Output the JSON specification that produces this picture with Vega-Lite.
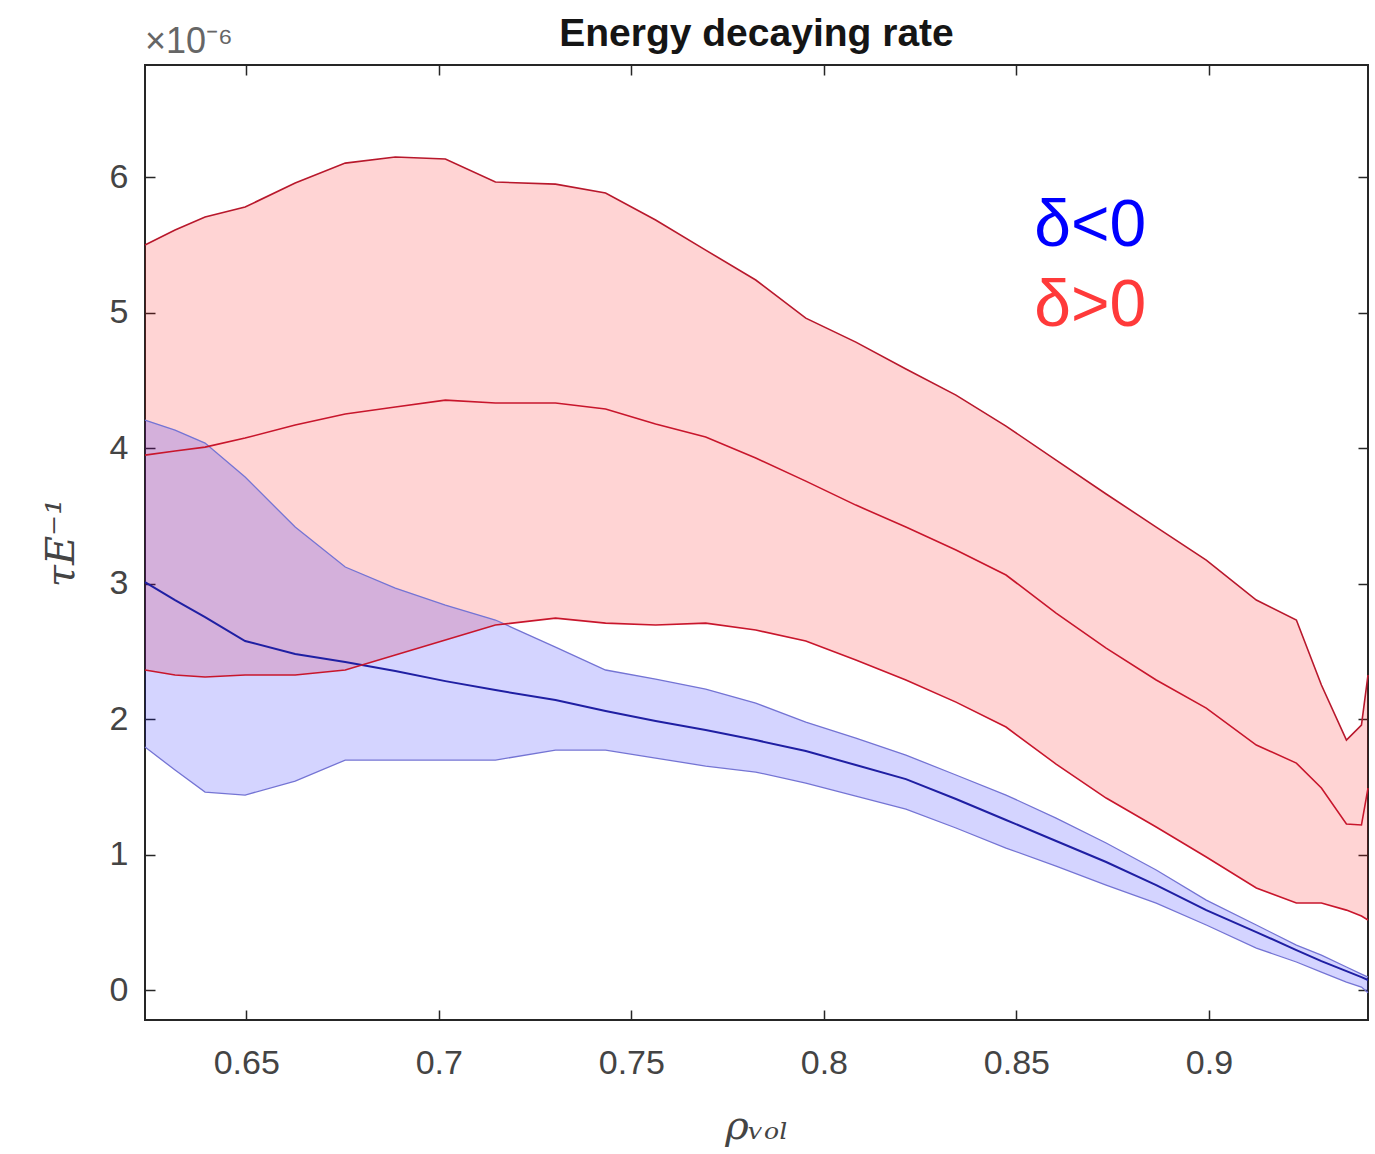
{
  "$schema": "https://vega.github.io/schema/vega-lite/v6.json",
  "width": 1223,
  "height": 955,
  "autosize": "none",
  "padding": {"left": 145, "top": 65, "right": 7, "bottom": 134},
  "background": "white",
  "title": {"text": "Energy decaying rate", "fontSize": 39, "fontWeight": "bold", "font": "Liberation Sans", "color": "#151515", "anchor": "middle", "baseline": "alphabetic", "offset": -61},
  "config": {
    "view": {"stroke": "#262626", "strokeWidth": 2},
    "axis": {"domain": false, "grid": false, "tickSize": -10, "tickColor": "#262626", "tickWidth": 1.5, "labelFont": "Liberation Sans", "labelFontSize": 34, "labelColor": "#444444", "titleColor": "#444444", "titleFont": "DejaVu Serif", "titleFontStyle": "italic", "titleFontWeight": "normal", "titleFontSize": 40}
  },
  "datasets": {
    "red": [
      {"x": 0.6237, "lo": 2.362, "mid": 3.948, "hi": 5.498},
      {"x": 0.6315, "lo": 2.325, "mid": 3.978, "hi": 5.609},
      {"x": 0.6393, "lo": 2.310, "mid": 4.007, "hi": 5.705},
      {"x": 0.6497, "lo": 2.325, "mid": 4.074, "hi": 5.779},
      {"x": 0.6627, "lo": 2.325, "mid": 4.170, "hi": 5.956},
      {"x": 0.6757, "lo": 2.362, "mid": 4.251, "hi": 6.103},
      {"x": 0.6887, "lo": 2.472, "mid": 4.303, "hi": 6.148},
      {"x": 0.7017, "lo": 2.583, "mid": 4.354, "hi": 6.133},
      {"x": 0.7147, "lo": 2.694, "mid": 4.332, "hi": 5.963},
      {"x": 0.7303, "lo": 2.745, "mid": 4.332, "hi": 5.948},
      {"x": 0.7433, "lo": 2.708, "mid": 4.288, "hi": 5.882},
      {"x": 0.7563, "lo": 2.694, "mid": 4.177, "hi": 5.683},
      {"x": 0.7693, "lo": 2.708, "mid": 4.081, "hi": 5.461},
      {"x": 0.7823, "lo": 2.657, "mid": 3.926, "hi": 5.240},
      {"x": 0.7953, "lo": 2.576, "mid": 3.756, "hi": 4.959},
      {"x": 0.8083, "lo": 2.435, "mid": 3.579, "hi": 4.782},
      {"x": 0.8213, "lo": 2.288, "mid": 3.417, "hi": 4.583},
      {"x": 0.8343, "lo": 2.125, "mid": 3.247, "hi": 4.391},
      {"x": 0.8473, "lo": 1.941, "mid": 3.063, "hi": 4.162},
      {"x": 0.8603, "lo": 1.668, "mid": 2.782, "hi": 3.911},
      {"x": 0.8733, "lo": 1.417, "mid": 2.524, "hi": 3.661},
      {"x": 0.8863, "lo": 1.203, "mid": 2.288, "hi": 3.417},
      {"x": 0.8993, "lo": 0.982, "mid": 2.081, "hi": 3.173},
      {"x": 0.9123, "lo": 0.753, "mid": 1.808, "hi": 2.878},
      {"x": 0.9227, "lo": 0.642, "mid": 1.675, "hi": 2.731},
      {"x": 0.9292, "lo": 0.642, "mid": 1.491, "hi": 2.251},
      {"x": 0.9357, "lo": 0.590, "mid": 1.225, "hi": 1.845},
      {"x": 0.9396, "lo": 0.546, "mid": 1.218, "hi": 1.956},
      {"x": 0.9413, "lo": 0.517, "mid": 1.491, "hi": 2.325}
    ],
    "blue": [
      {"x": 0.6237, "lo": 1.793, "mid": 3.011, "hi": 4.207},
      {"x": 0.6315, "lo": 1.624, "mid": 2.878, "hi": 4.133},
      {"x": 0.6393, "lo": 1.461, "mid": 2.753, "hi": 4.037},
      {"x": 0.6497, "lo": 1.439, "mid": 2.576, "hi": 3.786},
      {"x": 0.6627, "lo": 1.542, "mid": 2.480, "hi": 3.417},
      {"x": 0.6757, "lo": 1.697, "mid": 2.421, "hi": 3.122},
      {"x": 0.6887, "lo": 1.697, "mid": 2.354, "hi": 2.967},
      {"x": 0.7017, "lo": 1.697, "mid": 2.280, "hi": 2.841},
      {"x": 0.7147, "lo": 1.697, "mid": 2.214, "hi": 2.731},
      {"x": 0.7303, "lo": 1.771, "mid": 2.140, "hi": 2.531},
      {"x": 0.7433, "lo": 1.771, "mid": 2.059, "hi": 2.362},
      {"x": 0.7563, "lo": 1.712, "mid": 1.985, "hi": 2.295},
      {"x": 0.7693, "lo": 1.653, "mid": 1.919, "hi": 2.221},
      {"x": 0.7823, "lo": 1.609, "mid": 1.845, "hi": 2.118},
      {"x": 0.7953, "lo": 1.528, "mid": 1.764, "hi": 1.978},
      {"x": 0.8083, "lo": 1.432, "mid": 1.661, "hi": 1.860},
      {"x": 0.8213, "lo": 1.336, "mid": 1.557, "hi": 1.734},
      {"x": 0.8343, "lo": 1.196, "mid": 1.410, "hi": 1.587},
      {"x": 0.8473, "lo": 1.048, "mid": 1.255, "hi": 1.439},
      {"x": 0.8603, "lo": 0.915, "mid": 1.100, "hi": 1.269},
      {"x": 0.8733, "lo": 0.775, "mid": 0.945, "hi": 1.085},
      {"x": 0.8863, "lo": 0.642, "mid": 0.775, "hi": 0.886},
      {"x": 0.8993, "lo": 0.480, "mid": 0.590, "hi": 0.664},
      {"x": 0.9123, "lo": 0.310, "mid": 0.428, "hi": 0.480},
      {"x": 0.9227, "lo": 0.207, "mid": 0.295, "hi": 0.332},
      {"x": 0.9292, "lo": 0.133, "mid": 0.214, "hi": 0.258},
      {"x": 0.9357, "lo": 0.059, "mid": 0.140, "hi": 0.170},
      {"x": 0.9396, "lo": 0.022, "mid": 0.096, "hi": 0.118},
      {"x": 0.9413, "lo": -0.020, "mid": 0.074, "hi": 0.096}
    ],
    "notes": [
      {"x": 0.8546, "y": 5.64, "t": "δ<0"},
      {"x": 0.8546, "y": 5.05, "t": "δ>0"}
    ],
    "exponent": [
      {"x": 0.6237, "y": 7.0, "t": "×10⁻⁶"}
    ]
  },
  "resolve": {"axis": {"x": "independent", "y": "independent"}},
  "layer": [
    {
      "data": {"name": "red"},
      "mark": {"type": "area", "color": "#ff0000", "opacity": 0.17},
      "encoding": {
        "x": {"field": "x", "type": "quantitative", "scale": {"domain": [0.6237, 0.9413], "nice": false, "zero": false},
              "axis": {"orient": "bottom", "values": [0.65, 0.7, 0.75, 0.8, 0.85, 0.9], "format": "~g", "labelPadding": 36, "title": "ρᵥₒₗ", "titlePadding": 26}},
        "y": {"field": "hi", "type": "quantitative", "scale": {"domain": [-0.221, 6.827], "nice": false, "zero": false},
              "axis": {"orient": "left", "values": [0, 1, 2, 3, 4, 5, 6], "labelPadding": 27, "title": "τE⁻¹", "titlePadding": 28}},
        "y2": {"field": "lo"}
      }
    },
    {
      "data": {"name": "blue"},
      "mark": {"type": "area", "color": "#0000ff", "opacity": 0.17},
      "encoding": {
        "x": {"field": "x", "type": "quantitative", "axis": null},
        "y": {"field": "hi", "type": "quantitative", "axis": null},
        "y2": {"field": "lo"}
      }
    },
    {
      "data": {"name": "blue"},
      "mark": {"type": "line", "color": "#7474d4", "strokeWidth": 1.3},
      "encoding": {
        "x": {"field": "x", "type": "quantitative", "axis": null},
        "y": {"field": "hi", "type": "quantitative", "axis": null}
      }
    },
    {
      "data": {"name": "blue"},
      "mark": {"type": "line", "color": "#7474d4", "strokeWidth": 1.3},
      "encoding": {
        "x": {"field": "x", "type": "quantitative", "axis": null},
        "y": {"field": "lo", "type": "quantitative", "axis": null}
      }
    },
    {
      "data": {"name": "blue"},
      "mark": {"type": "line", "color": "#1f1fa3", "strokeWidth": 2},
      "encoding": {
        "x": {"field": "x", "type": "quantitative", "axis": null},
        "y": {"field": "mid", "type": "quantitative", "axis": null}
      }
    },
    {
      "data": {"name": "red"},
      "mark": {"type": "line", "color": "#b8182c", "strokeWidth": 1.6},
      "encoding": {
        "x": {"field": "x", "type": "quantitative", "axis": null},
        "y": {"field": "hi", "type": "quantitative", "axis": null}
      }
    },
    {
      "data": {"name": "red"},
      "mark": {"type": "line", "color": "#c8162c", "strokeWidth": 1.6},
      "encoding": {
        "x": {"field": "x", "type": "quantitative", "axis": null},
        "y": {"field": "mid", "type": "quantitative", "axis": null}
      }
    },
    {
      "data": {"name": "red"},
      "mark": {"type": "line", "color": "#c8162c", "strokeWidth": 1.6},
      "encoding": {
        "x": {"field": "x", "type": "quantitative", "axis": null},
        "y": {"field": "lo", "type": "quantitative", "axis": null}
      }
    },
    {
      "data": {"name": "notes"},
      "mark": {"type": "text", "align": "left", "baseline": "middle", "font": "Liberation Sans", "fontSize": 66},
      "encoding": {
        "x": {"field": "x", "type": "quantitative", "axis": null},
        "y": {"field": "y", "type": "quantitative", "axis": null},
        "text": {"field": "t"},
        "color": {"field": "t", "type": "nominal", "scale": {"domain": ["δ<0", "δ>0"], "range": ["#0000ff", "#ff3a3a"]}, "legend": null}
      }
    },
    {
      "data": {"name": "exponent"},
      "mark": {"type": "text", "align": "left", "baseline": "middle", "font": "Liberation Sans", "fontSize": 36, "color": "#666666"},
      "encoding": {
        "x": {"field": "x", "type": "quantitative", "axis": null},
        "y": {"field": "y", "type": "quantitative", "axis": null},
        "text": {"field": "t"}
      }
    },
    {
      "data": {"name": "blue"},
      "mark": {"type": "point", "opacity": 0},
      "encoding": {
        "x": {"field": "x", "type": "quantitative", "axis": {"orient": "top", "values": [0.65, 0.7, 0.75, 0.8, 0.85, 0.9], "labels": false, "title": null}},
        "y": {"field": "mid", "type": "quantitative", "axis": {"orient": "right", "values": [0, 1, 2, 3, 4, 5, 6], "labels": false, "title": null}}
      }
    }
  ]
}
